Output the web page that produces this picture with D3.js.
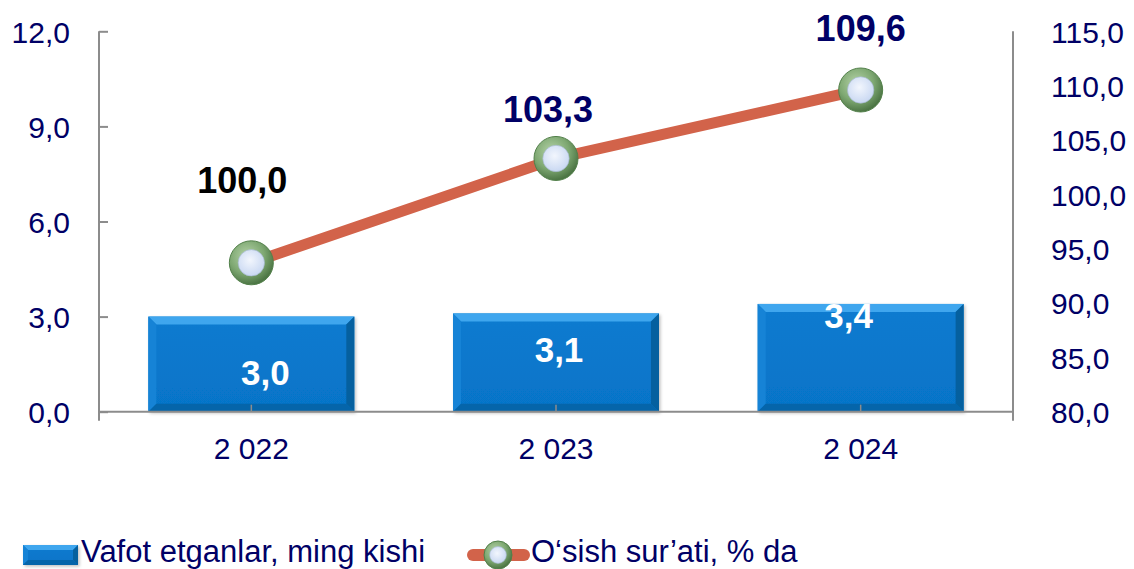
<!DOCTYPE html>
<head>
    <meta charset="utf-8">
    <script src="https://d3js.org/d3.v7.min.js"></script>
    <style>
        *{
            margin:0;
            padding:0;
        }
        body{
            background: #fff;
            font-family: 'Liberation Sans', Arial, sans-serif;
        }
        svg{
            display: block;
        }
        .tick text{
            fill: #000066;
            font-size: 30px;
        }
    </style>
</head>

<body>
<svg id="viz"></svg>

<script>

    //data
    let years = ["2 022", "2 023", "2 024"];
    let deaths = [3.0, 3.1, 3.4];                 //bars, left axis
    let deathLabels = ["3,0", "3,1", "3,4"];
    let growth = [93.7, 103.3, 109.6];            //line, right axis (as drawn)
    let growthLabels = ["100,0", "103,3", "109,6"];
    let leftTicks = [0, 3, 6, 9, 12];
    let rightTicks = [80, 85, 90, 95, 100, 105, 110, 115];
    let legendNames = ["Vafot etganlar, ming kishi", "O\u2018sish sur\u2019ati, % da"];


    //svg size
    let W = 1134, H = 569;
    let svg = d3.select("#viz").attr("width", W).attr("height", H);

    let plot = {left: 99, right: 1013, top: 31.3, bottom: 411.7};

    let navy = "#000066";
    let axisGray = "#8c8c8c";
    let lineColor = "#d2634a";


    //scales
    let x = d3.scaleBand()
        .domain(years)
        .range([plot.left, plot.right])
        .paddingInner(0.324)
        .paddingOuter(0.162);

    let yL = d3.scaleLinear().domain([0, 12]).range([plot.bottom, plot.top]);
    let yR = d3.scaleLinear().domain([80, 115]).range([plot.bottom, plot.top]);

    let fmt = v => d3.format(".1f")(v).replace(".", ",");


    //gradients for markers
    let defs = svg.append("defs");

    let gGreen = defs.append("radialGradient").attr("id", "green").attr("cx", "40%").attr("cy", "35%").attr("r", "65%");
    gGreen.append("stop").attr("offset", "0%").attr("stop-color", "#b5d3a8");
    gGreen.append("stop").attr("offset", "60%").attr("stop-color", "#7ea872");
    gGreen.append("stop").attr("offset", "100%").attr("stop-color", "#4c7544");

    let gInner = defs.append("radialGradient").attr("id", "inner").attr("cx", "45%").attr("cy", "40%").attr("r", "60%");
    gInner.append("stop").attr("offset", "0%").attr("stop-color", "#f2f6fd");
    gInner.append("stop").attr("offset", "100%").attr("stop-color", "#c9d8f2");

    let gBar = defs.append("linearGradient").attr("id", "bar").attr("x1", 0).attr("y1", 0).attr("x2", 0).attr("y2", 1);
    gBar.append("stop").attr("offset", "0%").attr("stop-color", "#0a7bd0");
    gBar.append("stop").attr("offset", "100%").attr("stop-color", "#0674c8");

    let fShadow = defs.append("filter").attr("id", "shadow").attr("x", "-10%").attr("y", "-10%").attr("width", "130%").attr("height", "130%");
    fShadow.append("feDropShadow").attr("dx", 1.5).attr("dy", 1.5).attr("stdDeviation", 1.5)
        .attr("flood-color", "#000").attr("flood-opacity", 0.25);


    //bevelled bar drawing
    let bevel = (g, x0, y0, w, h, b) => {
        g.append("rect").attr("x", x0).attr("y", y0).attr("width", w).attr("height", h)
            .attr("fill", "url(#bar)").attr("filter", "url(#shadow)");
        let pts = (arr) => arr.map(p => p.join(",")).join(" ");
        let x1 = x0 + w, y1 = y0 + h;
        //top
        g.append("polygon").attr("points", pts([[x0, y0], [x1, y0], [x1 - b, y0 + b], [x0 + b, y0 + b]]))
            .attr("fill", "#3fa6ee");
        //left
        g.append("polygon").attr("points", pts([[x0, y0], [x0 + b, y0 + b], [x0 + b, y1 - b], [x0, y1]]))
            .attr("fill", "#1683d6");
        //right
        g.append("polygon").attr("points", pts([[x1, y0], [x1, y1], [x1 - b, y1 - b], [x1 - b, y0 + b]]))
            .attr("fill", "#05609f");
        //bottom
        g.append("polygon").attr("points", pts([[x0, y1], [x0 + b, y1 - b], [x1 - b, y1 - b], [x1, y1]]))
            .attr("fill", "#0565aa");
    };


    //axes
    let leftAxis = svg.append("g")
        .attr("transform", `translate(${plot.left},0)`)
        .call(d3.axisLeft(yL).tickValues(leftTicks).tickFormat(fmt).tickSize(9).tickPadding(20));
    leftAxis.select(".domain").remove();
    leftAxis.selectAll(".tick line").attr("x2", 9).attr("stroke", axisGray).attr("stroke-width", 2);
    leftAxis.selectAll(".tick text").attr("dy", "0.36em");
    leftAxis.append("line").attr("x1", 0).attr("x2", 0).attr("y1", plot.top).attr("y2", plot.bottom + 9)
        .attr("stroke", axisGray).attr("stroke-width", 2);

    let rightAxis = svg.append("g")
        .attr("transform", `translate(${plot.right},0)`)
        .call(d3.axisRight(yR).tickValues(rightTicks).tickFormat(fmt).tickSize(0).tickPadding(38));
    rightAxis.select(".domain").remove();
    rightAxis.selectAll(".tick text").attr("dy", "0.36em");
    rightAxis.append("line").attr("x1", 0).attr("x2", 0).attr("y1", plot.top).attr("y2", plot.bottom + 9)
        .attr("stroke", axisGray).attr("stroke-width", 2);


    //bars
    let bars = svg.append("g");
    years.forEach((c, i) => {
        let g = bars.append("g");
        bevel(g, x(c), yL(deaths[i]), x.bandwidth(), yL(0) - yL(deaths[i]), 8);
    });


    //baseline + category axis
    let bottomAxis = svg.append("g")
        .attr("transform", `translate(0,${plot.bottom})`)
        .call(d3.axisBottom(x).tickSize(-7).tickPadding(32));
    bottomAxis.select(".domain").attr("d", `M${plot.left},0H${plot.right}`)
        .attr("stroke", axisGray).attr("stroke-width", 2);
    bottomAxis.selectAll(".tick line").attr("stroke", axisGray).attr("stroke-width", 1.5);
    bottomAxis.selectAll(".tick text").attr("dy", "0.71em").attr("y", 26);


    //bar labels (hand placed in original, offsets from bar centre)
    let barLabelShift = [[14, -27], [3, -50], [-12, -84]];
    svg.append("g").selectAll("text")
        .data(deathLabels)
        .join("text")
        .attr("x", (d, i) => x(years[i]) + x.bandwidth() / 2 + barLabelShift[i][0])
        .attr("y", (d, i) => yL(0) + barLabelShift[i][1])
        .attr("text-anchor", "middle")
        .attr("font-size", 35)
        .attr("font-weight", "bold")
        .attr("fill", "#fff")
        .text(d => d);


    //line
    let cx = c => x(c) + x.bandwidth() / 2;
    let line = d3.line()
        .x((d, i) => cx(years[i]))
        .y(d => yR(d));

    svg.append("path")
        .datum(growth)
        .attr("d", line)
        .attr("fill", "none")
        .attr("stroke", lineColor)
        .attr("stroke-width", 11)
        .attr("stroke-linejoin", "round");


    //markers
    let marker = (g, px, py, r) => {
        g.append("circle").attr("cx", px).attr("cy", py).attr("r", r)
            .attr("fill", "url(#green)").attr("stroke", "#52804a").attr("stroke-width", 1);
        g.append("circle").attr("cx", px).attr("cy", py).attr("r", r * 0.6)
            .attr("fill", "url(#inner)").attr("stroke", "#9fb3c9").attr("stroke-width", 0.6);
    };
    let markers = svg.append("g");
    growth.forEach((v, i) => marker(markers, cx(years[i]), yR(v), 22));


    //line labels (hand placed)
    let lineLabelShift = [[-9, -70], [-8, -36], [0, -49]];
    svg.append("g").selectAll("text")
        .data(growthLabels)
        .join("text")
        .attr("x", (d, i) => cx(years[i]) + lineLabelShift[i][0])
        .attr("y", (d, i) => yR(growth[i]) + lineLabelShift[i][1])
        .attr("text-anchor", "middle")
        .attr("font-size", 36)
        .attr("font-weight", "bold")
        .attr("fill", (d, i) => i == 0 ? "#000" : navy)
        .text(d => d);


    //legend
    let legend = svg.append("g");
    let lg1 = legend.append("g");
    bevel(lg1, 23, 545, 55, 20, 5);
    legend.append("text").attr("x", 81).attr("y", 561.5).attr("font-size", 31).attr("fill", navy).text(legendNames[0]);

    legend.append("line").attr("x1", 473).attr("x2", 524).attr("y1", 555).attr("y2", 555)
        .attr("stroke", lineColor).attr("stroke-width", 12).attr("stroke-linecap", "round");
    marker(legend, 498, 555, 14);
    legend.append("text").attr("x", 531).attr("y", 561.5).attr("font-size", 31).attr("fill", navy).text(legendNames[1]);

</script>
</body>
